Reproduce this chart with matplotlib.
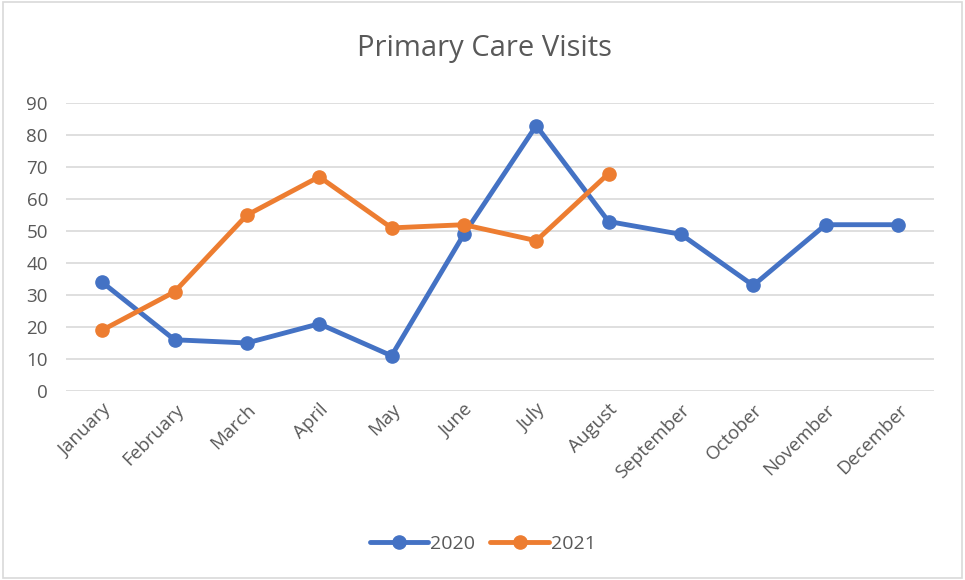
import matplotlib.pyplot as plt
from matplotlib.patches import Rectangle

plt.rcParams['font.family'] = ['Open Sans', 'DejaVu Sans']

months = ["January", "February", "March", "April", "May", "June", "July",
          "August", "September", "October", "November", "December"]
visits_2020 = [34, 16, 15, 21, 11, 49, 83, 53, 49, 33, 52, 52]
visits_2021 = [19, 31, 55, 67, 51, 52, 47, 68]

blue = "#4472C4"
orange = "#ED7D31"
grey = "#595959"

fig = plt.figure(figsize=(9.65, 5.8), dpi=100)
fig.patches.append(Rectangle((0.003, 0.003), 0.994, 0.994, transform=fig.transFigure,
                             fill=False, edgecolor="#D9D9D9", linewidth=1.2))
ax = fig.add_axes([0.0684, 0.326, 0.8996, 0.496])

x20 = list(range(len(visits_2020)))
x21 = list(range(len(visits_2021)))
ax.plot(x20, visits_2020, color=blue, lw=3.5, marker="o", ms=9.5, label="2020",
        solid_capstyle="round", zorder=3)
ax.plot(x21, visits_2021, color=orange, lw=3.5, marker="o", ms=9.5, label="2021",
        solid_capstyle="round", zorder=3)

ax.set_xlim(-0.5, 11.5)
ax.set_ylim(0, 90)
ax.set_yticks(range(0, 91, 10))
ax.set_xticks(x20)
ax.set_xticklabels(months, rotation=45, ha="right", rotation_mode="anchor")
ax.grid(axis="y", color="#D9D9D9", lw=1.2)
ax.set_axisbelow(True)
for s in ax.spines.values():
    s.set_visible(False)
ax.tick_params(length=0, colors=grey, labelsize=13.5)
ax.tick_params(axis="y", pad=13)
ax.tick_params(axis="x", pad=7)

fig.text(0.502, 0.917, "Primary Care Visits", ha="center", va="center",
         fontsize=21, color=grey)
fig.legend(loc="center", bbox_to_anchor=(0.5, 0.062), ncol=2, frameon=False,
           fontsize=14, labelcolor=grey, handlelength=3.0, columnspacing=0.8,
           handletextpad=0.1)

fig.savefig("out.png", dpi=100)
